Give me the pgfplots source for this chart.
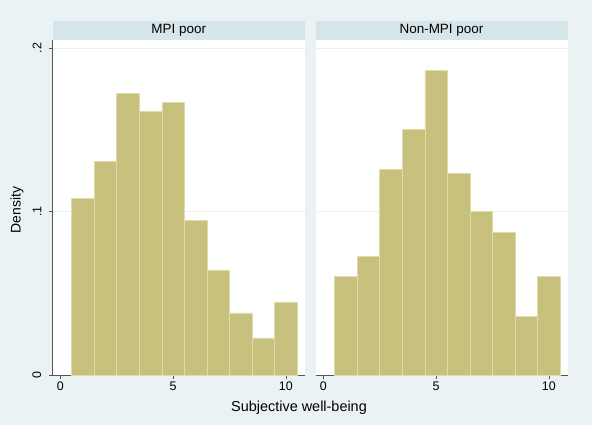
\documentclass[border=0pt]{standalone}
\usepackage{fontspec}
\setmainfont{Liberation Sans}
\usepackage{pgfplots}
\pgfplotsset{compat=1.18}

\definecolor{bgcol}{RGB}{234,242,243}
\definecolor{stripcol}{RGB}{214,229,234}
\definecolor{barcol}{RGB}{200,193,125}
\definecolor{baredge}{RGB}{224,220,172}
\definecolor{gridcol}{RGB}{232,240,242}
\definecolor{axiscol}{RGB}{85,85,85}

% bin densities, unit-width bins centred on 1..10 (last row closes the interval)
\pgfplotstableread{
x     d
0.5   0.1080
1.5   0.1308
2.5   0.1720
3.5   0.1612
4.5   0.1667
5.5   0.0947
6.5   0.0643
7.5   0.0380
8.5   0.0227
9.5   0.0447
10.5  0.0447
}\mpipoor
\pgfplotstableread{
x     d
0.5   0.0603
1.5   0.0723
2.5   0.1257
3.5   0.1500
4.5   0.1864
5.5   0.1232
6.5   0.1000
7.5   0.0872
8.5   0.0358
9.5   0.0603
10.5  0.0603
}\nonmpipoor

\pgfplotsset{
  panel/.style={
    scale only axis, width=252bp, height=335bp,
    anchor=south west,
    xmin=-0.35, xmax=10.83, ymin=0, ymax=0.2049,
    axis background/.style={fill=white},
    axis x line*=bottom, axis y line*=left,
    axis line style={draw=axiscol, line width=0.6pt, -},
    xtick={0,5,10}, xticklabels={0,5,10},
    ytick={0,0.1,0.2},
    ymajorgrids, grid style={draw=gridcol, line width=0.7pt},
    tick align=outside, major tick length=4bp,
    tick style={draw=axiscol, line width=0.6pt},
    xticklabel style={font=\fontsize{12.5}{14}\selectfont, inner sep=1pt, yshift=-1.5bp},
  },
  bars/.style={ybar interval, fill=barcol, draw=baredge, line width=0.6pt},
}

\begin{document}
\begin{tikzpicture}[x=1bp, y=1bp]
  \fill[bgcol] (0,0) rectangle (592,425);
  \useasboundingbox (0,0) rectangle (592,425);

  % panel headers
  \fill[stripcol] (52.5,385) rectangle (305,404);
  \fill[stripcol] (315.5,385) rectangle (567.5,404);
  \node[font=\fontsize{13.5}{15}\selectfont] at (178.75,394.5) {MPI poor};
  \node[font=\fontsize{13.5}{15}\selectfont] at (441.5,394.5) {Non-MPI poor};

  \begin{axis}[panel, at={(52.5bp,50bp)},
      yticklabels={0,.1,.2},
      yticklabel style={xshift=-6bp, rotate=90, anchor=south, inner sep=1pt,
        font=\fontsize{12.5}{14}\selectfont}]
    \addplot[bars] table[x=x, y=d] {\mpipoor};
  \end{axis}

  \begin{axis}[panel, at={(315.5bp,50bp)},
      yticklabels={},
      y axis line style={draw=none},
      ytick style={draw=none}]
    \addplot[bars] table[x=x, y=d] {\nonmpipoor};
  \end{axis}

  % axis titles
  \node[rotate=90, font=\fontsize{14}{16}\selectfont] at (17,215) {Density};
  \node[font=\fontsize{14.5}{16}\selectfont] at (299,17) {Subjective well-being};
\end{tikzpicture}
\end{document}
